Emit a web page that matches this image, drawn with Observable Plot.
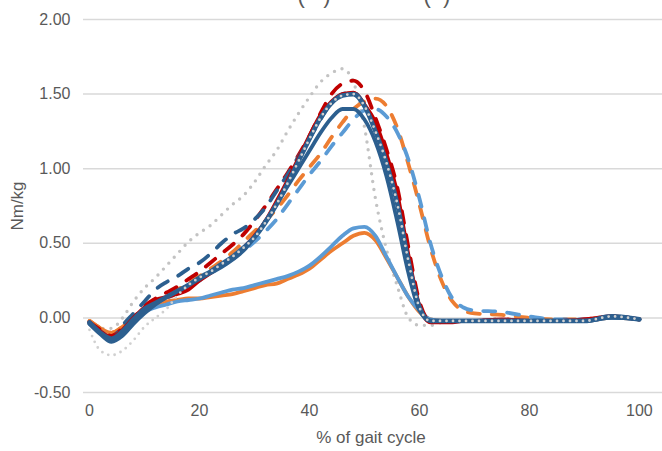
<!DOCTYPE html>
<html><head><meta charset="utf-8">
<script src="https://cdn.jsdelivr.net/npm/d3@7"></script>
<script src="https://cdn.jsdelivr.net/npm/@observablehq/plot@0.6"></script>
<style>body{margin:0;background:#fff}svg{display:block}</style>
</head><body><div id="chart"></div>
<script>
const gaitPct = [0,2,4,6,8,10,12,14,16,18,20,22,24,26,28,30,32,34,36,38,40,42,44,46,48,50,52,54,56,58,60,62,64,66,68,70,75,80,85,90,95,100];
const xTicks = [0,20,40,60,80,100];
const yTicks = [-0.5,0,0.5,1,1.5,2];

const greyUpper = [-0.02,-0.07,-0.07,0.0,0.11,0.20,0.27,0.35,0.43,0.51, 0.57,0.62,0.69,0.76,0.82,0.91,1.02,1.12,1.25,1.37, 1.48,1.58,1.64,1.67,1.58,1.28,0.80,0.46,0.21,0.0, -0.05,-0.05,-0.03,-0.02,-0.02,-0.02, -0.02,-0.02,-0.02,-0.02,0.0,-0.01];
const greyLower = [-0.08,-0.22,-0.25,-0.22,-0.15,-0.06,0.0,0.06,0.15,0.22, 0.27,0.31,0.36,0.41,0.47,0.54,0.64,0.76,0.90,1.05, 1.20,1.34,1.44,1.49,1.50,1.42,1.25,1.04,0.76,0.38, 0.07,-0.02,-0.02,-0.02,-0.02,-0.02, -0.02,-0.02,-0.02,-0.02,0.01,-0.01];
const darkBlue2 = [-0.03,-0.10,-0.14,-0.09,-0.01,0.06,0.10,0.14,0.18,0.22, 0.27,0.31,0.36,0.41,0.47,0.54,0.64,0.76,0.90,1.05, 1.20,1.34,1.44,1.49,1.50,1.42,1.25,1.04,0.76,0.38, 0.07,-0.02,-0.02,-0.02,-0.02,-0.02, -0.02,-0.02,-0.02,-0.02,0.01,-0.01];
const redSolid = [-0.03,-0.09,-0.13,-0.08,0.0,0.07,0.12,0.14,0.16,0.19, 0.25,0.30,0.35,0.40,0.47,0.55,0.65,0.78,0.92,1.07, 1.22,1.36,1.45,1.50,1.51,1.43,1.31,1.10,0.83,0.42, 0.08,-0.03,-0.03,-0.03,-0.02,-0.02, -0.01,-0.02,-0.02,-0.01,0.01,-0.01];
const darkBlue1 = [-0.04,-0.11,-0.16,-0.12,-0.04,0.03,0.09,0.14,0.18,0.22, 0.26,0.30,0.34,0.39,0.45,0.54,0.65,0.76,0.88,1.00, 1.12,1.24,1.34,1.40,1.40,1.33,1.18,0.95,0.64,0.30, 0.05,-0.02,-0.02,-0.02,-0.02,-0.02, -0.02,-0.02,-0.02,-0.02,0.0,-0.01];
const redDashed = [-0.03,-0.08,-0.12,-0.07,0.0,0.08,0.13,0.17,0.21,0.26, 0.31,0.37,0.43,0.49,0.56,0.65,0.75,0.86,0.97,1.09, 1.22,1.37,1.50,1.57,1.59,1.52,1.34,1.13,0.87,0.47, 0.11,-0.02,-0.02,-0.02,-0.02,-0.02, -0.01,-0.02,-0.02,-0.01,0.01,-0.01];
const darkBlueDashed = [-0.04,-0.10,-0.14,-0.05,0.03,0.11,0.19,0.24,0.28,0.33, 0.37,0.43,0.50,0.56,0.60,0.66,0.74,0.85,0.96,1.08, 1.20,1.33,1.44,1.50,1.51,1.43,1.27,1.06,0.78,0.40, 0.08,-0.02,-0.02,-0.02,-0.02,-0.02, -0.02,-0.02,-0.02,-0.02,0.01,-0.01];
const orangeDashed = [-0.02,-0.07,-0.10,-0.06,0.0,0.06,0.11,0.15,0.19,0.23, 0.28,0.33,0.38,0.44,0.51,0.58,0.65,0.73,0.82,0.92, 1.01,1.10,1.21,1.31,1.40,1.45,1.47,1.42,1.27,1.03, 0.76,0.47,0.25,0.11,0.05,0.03, 0.02,0.0,-0.01,-0.01,0.01,-0.01];
const lightBlueDashed = [-0.03,-0.08,-0.12,-0.08,-0.01,0.05,0.09,0.13,0.17,0.21, 0.25,0.30,0.35,0.40,0.45,0.51,0.58,0.66,0.76,0.86, 0.96,1.05,1.15,1.24,1.33,1.39,1.40,1.35,1.24,1.06, 0.80,0.50,0.28,0.13,0.07,0.05, 0.04,0.01,-0.01,-0.01,0.01,-0.01];
const lightBlueSolid = [-0.03,-0.09,-0.13,-0.09,-0.02,0.04,0.07,0.09,0.11,0.12, 0.13,0.15,0.17,0.19,0.20,0.22,0.24,0.26,0.28,0.31, 0.35,0.41,0.48,0.55,0.60,0.61,0.55,0.41,0.27,0.14, 0.05,-0.01,-0.02,-0.02,-0.02,-0.02, -0.02,-0.02,-0.02,-0.02,0.0,-0.01];
const orangeSolid = [-0.02,-0.07,-0.10,-0.06,0.0,0.05,0.09,0.11,0.12,0.13, 0.13,0.14,0.15,0.16,0.18,0.20,0.22,0.23,0.26,0.29, 0.33,0.39,0.45,0.50,0.55,0.57,0.52,0.40,0.27,0.14, 0.04,-0.01,-0.02,-0.02,-0.02,-0.02, -0.02,-0.02,-0.02,-0.02,0.0,-0.01];

const RED = "#C00000", DBLUE = "#2C5F8F", LBLUE = "#5B9BD5", ORANGE = "#ED7D31", GREY = "#C3C3C3";
const DASH = "12,12", DOT = "0,8";

const seriesStyles = [
  {values: greyUpper, stroke: GREY, width: 3.4, dash: DOT, cap: "round"},
  {values: orangeDashed, stroke: ORANGE, width: 3.8, dash: DASH, cap: "round"},
  {values: lightBlueDashed, stroke: LBLUE, width: 3.8, dash: DASH, cap: "round"},
  {values: orangeSolid, stroke: ORANGE, width: 3.8, dash: null, cap: "round"},
  {values: lightBlueSolid, stroke: LBLUE, width: 3.8, dash: null, cap: "round"},
  {values: redDashed, stroke: RED, width: 3.8, dash: DASH, cap: "round"},
  {values: darkBlueDashed, stroke: DBLUE, width: 3.8, dash: DASH, cap: "round"},
  {values: redSolid, stroke: RED, width: 3.8, dash: null, cap: "round"},
  {values: darkBlue1, stroke: DBLUE, width: 3.8, dash: null, cap: "round"},
  {values: darkBlue2, stroke: DBLUE, width: 4.6, dash: null, cap: "round"},
  {values: greyLower, stroke: "#D0D0D0", width: 2.8, dash: "0,6.5", cap: "round"}
];

const lineMarks = seriesStyles.map(s => {
  const rows = gaitPct.map((x, i) => ({x, y: s.values[i]}));
  return Plot.line(rows, {x: "x", y: "y", stroke: s.stroke, strokeWidth: s.width,
    strokeDasharray: s.dash || undefined, strokeLinecap: s.cap, strokeLinejoin: "round",
    curve: "monotone-x"});
});

const chart = Plot.plot({
  width: 662, height: 451,
  marginLeft: 83, marginRight: 0, marginTop: 19, marginBottom: 59,
  style: {fontFamily: "'Liberation Sans', Arial, sans-serif", fontSize: "16px", color: "#595959", background: "#fff", overflow: "visible"},
  x: {domain: [-1.09, 104.2]},
  y: {domain: [-0.5, 2.0]},
  marks: [
    Plot.ruleY(yTicks, {stroke: "#D9D9D9", strokeWidth: 1.5}),
    Plot.axisY(yTicks, {tickSize: 0, tickPadding: 13, tickFormat: d => d.toFixed(2), label: null, fill: "#595959"}),
    Plot.axisX(xTicks, {tickSize: 0, tickPadding: 12, label: null, fill: "#595959"}),
    ...lineMarks
  ]
});

const svg = d3.select(chart);
svg.append("text").attr("x", 371).attr("y", 443).attr("text-anchor", "middle")
  .attr("fill", "#595959").attr("font-size", 17).text("% of gait cycle");
svg.append("text").attr("transform", "translate(23,206) rotate(-90)").attr("text-anchor", "middle")
  .attr("fill", "#595959").attr("font-size", 17).text("Nm/kg");
svg.append("text").attr("x", 314).attr("y", 3).attr("text-anchor", "middle")
  .attr("fill", "#595959").attr("font-size", 22).text("(\u00a0\u00a0\u00a0)");
svg.append("text").attr("x", 437).attr("y", 3).attr("text-anchor", "middle")
  .attr("fill", "#595959").attr("font-size", 22).text("(\u00a0\u00a0)");

document.getElementById("chart").appendChild(chart);
</script></body></html>
